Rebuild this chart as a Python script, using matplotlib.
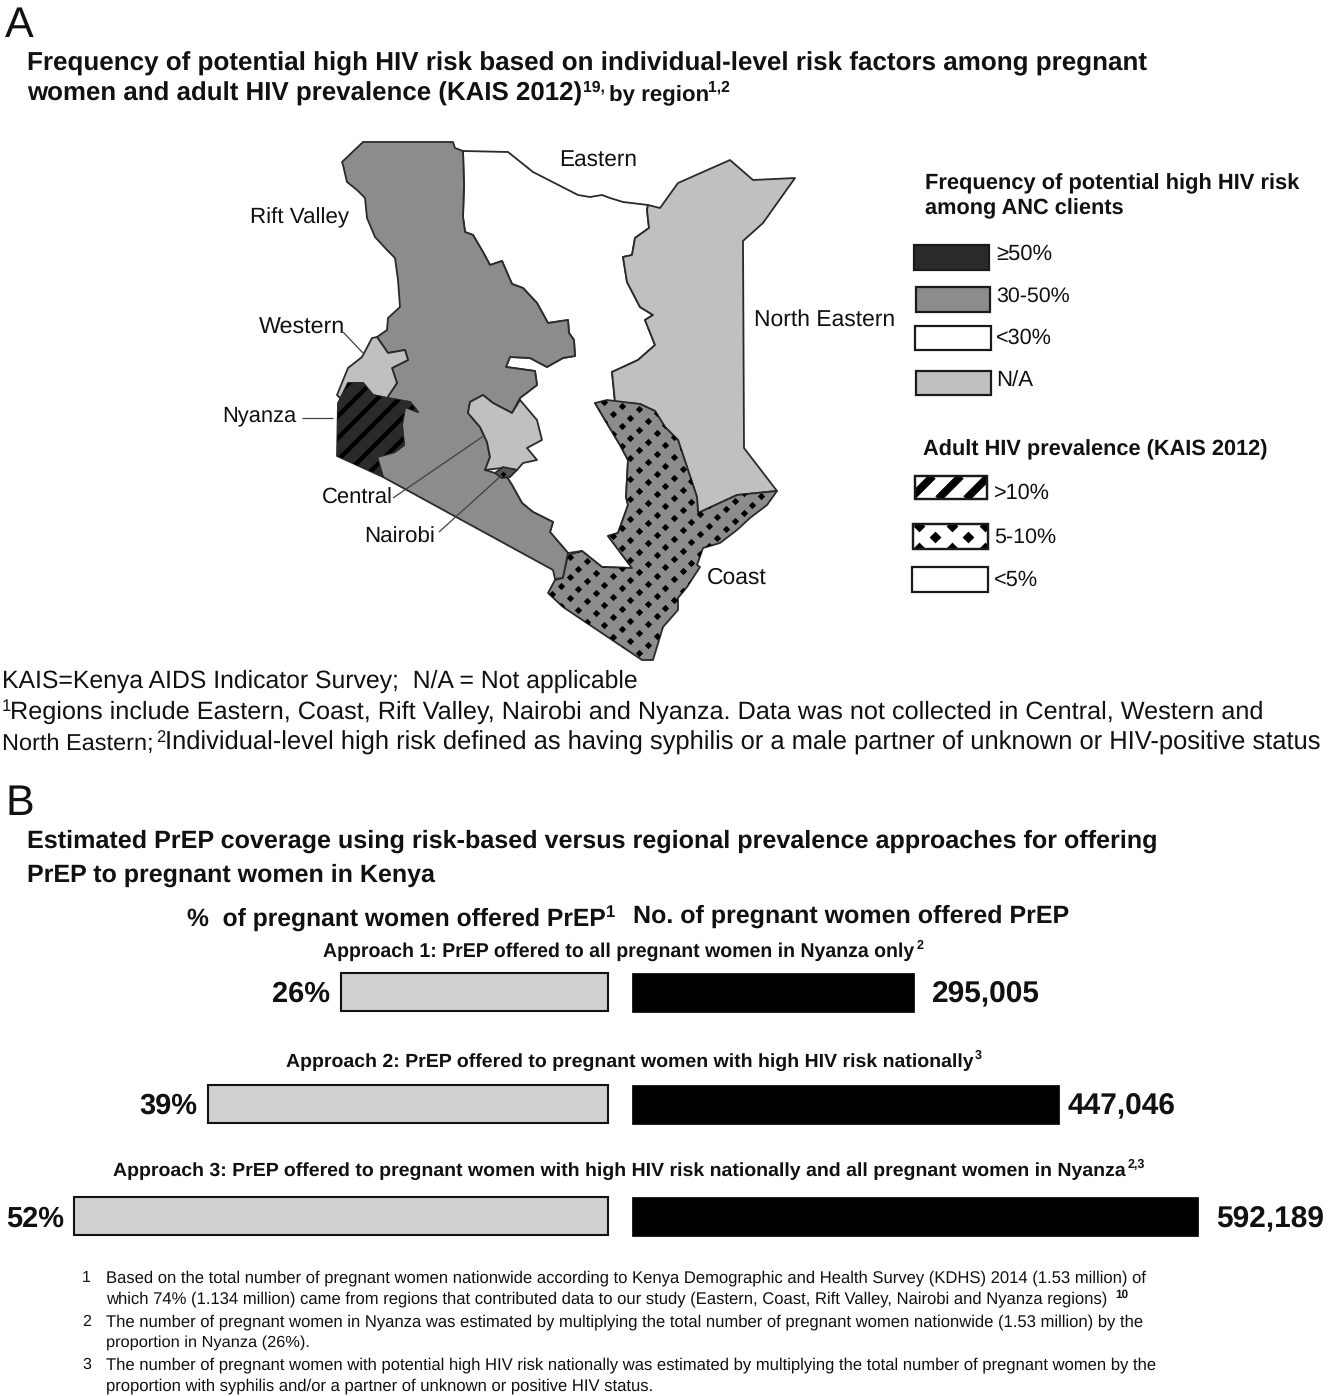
# Kenya HIV risk map (A) and PrEP coverage bars (B), 1328x1396 px at dpi 100
import numpy as np
import matplotlib
matplotlib.use('Agg')
import matplotlib.pyplot as plt
from matplotlib.patches import Polygon, Rectangle
from matplotlib.collections import LineCollection

plt.rcParams['font.family'] = ['Liberation Sans', 'DejaVu Sans']
plt.rcParams['text.hinting'] = 'no_hinting'

# Bar data
approaches = ['Approach 1: PrEP offered to all pregnant women in Nyanza only',
              'Approach 2: PrEP offered to pregnant women with high HIV risk nationally',
              'Approach 3: PrEP offered to pregnant women with high HIV risk nationally and all pregnant women in Nyanza']
approach_sups = ['2', '3', '2,3']
pct_offered = [26, 39, 52]
num_offered = [295005, 447046, 592189]

rift_valley = [(342, 162), (363, 142), (453, 142), (455, 148), (463, 151), (464, 185), (463, 217), (465, 232),
               (473, 235), (483, 252), (490, 265), (502, 261), (512, 284), (523, 288), (537, 303), (548, 323),
               (568, 320), (569, 333), (574, 340), (575, 356), (563, 358), (547, 367), (530, 358), (510, 357),
               (506, 367), (535, 371), (537, 385), (520, 398), (512, 413), (493, 403), (483, 395), (470, 402),
               (468, 413), (480, 427), (487, 442), (490, 457), (485, 470), (495, 473), (507, 477), (512, 485),
               (522, 503), (533, 512), (553, 522), (550, 532), (568, 553), (563, 578), (555, 579), (553, 570),
               (383, 477), (377, 457), (395, 452), (404, 445), (402, 425), (405, 407), (418, 412), (410, 402),
               (387, 398), (397, 383), (392, 368), (408, 360), (405, 350), (388, 353), (377, 337), (387, 330),
               (388, 318), (400, 307), (398, 280), (395, 258), (387, 250), (375, 237), (367, 218), (365, 198),
               (357, 190), (347, 182), (343, 165)]
western = [(377, 337), (388, 353), (405, 350), (408, 360), (392, 368), (397, 383), (387, 398), (373, 395),
           (363, 383), (348, 383), (342, 400), (337, 395), (348, 368), (362, 357), (372, 338)]
nyanza = [(337, 456), (338, 403), (348, 383), (363, 383), (373, 395), (387, 398), (410, 402), (418, 412),
          (405, 407), (402, 425), (404, 445), (395, 452), (377, 457), (383, 477)]
central = [(520, 400), (512, 413), (493, 403), (483, 395), (470, 402), (468, 413), (480, 427), (487, 442),
           (490, 457), (485, 470), (502, 468), (517, 470), (523, 463), (537, 460), (527, 448), (542, 440),
           (537, 420)]
nairobi = [(495, 473), (503, 467), (517, 470), (510, 477), (502, 478)]
north_eastern = [(648, 205), (660, 208), (678, 183), (730, 160), (753, 180), (795, 178), (763, 223), (743, 241),
                 (744, 448), (777, 491), (737, 495), (698, 513), (697, 497), (687, 467), (678, 440), (665, 427),
                 (655, 411), (640, 404), (615, 402), (612, 372), (638, 360), (655, 345), (645, 320), (653, 315),
                 (640, 307), (627, 282), (623, 257), (632, 255), (635, 238), (649, 228), (647, 210)]
coast = [(595, 403), (607, 400), (640, 404), (655, 411), (665, 427), (678, 440), (687, 467), (697, 497),
         (698, 513), (737, 495), (777, 491), (767, 505), (750, 518), (737, 530), (720, 543), (703, 548),
         (697, 565), (700, 567), (687, 587), (678, 598), (678, 610), (663, 627), (653, 660), (642, 660),
         (563, 607), (548, 593), (555, 580), (563, 578), (568, 555), (582, 551), (602, 567), (632, 568),
         (608, 536), (618, 533), (628, 505), (626, 497), (628, 460), (620, 445), (605, 420)]
eastern = [(463, 151), (508, 152), (533, 172), (578, 195), (590, 197), (602, 195), (610, 198), (623, 202),
           (648, 205), (647, 210), (649, 228), (635, 238), (632, 255), (623, 257), (627, 282), (640, 307),
           (653, 315), (645, 320), (655, 345), (638, 360), (612, 372), (615, 402), (595, 403), (605, 420),
           (620, 445), (628, 460), (626, 497), (628, 505), (618, 533), (608, 536), (632, 568), (602, 567),
           (582, 551), (568, 553), (550, 532), (553, 522), (533, 512), (522, 503), (512, 485), (507, 477),
           (520, 398), (537, 385), (535, 371), (506, 367), (510, 357), (530, 358), (547, 367), (563, 358),
           (575, 356), (574, 340), (569, 333), (568, 320), (548, 323), (537, 303), (523, 288), (512, 284),
           (502, 261), (490, 265), (483, 252), (473, 235), (465, 232), (463, 217), (464, 185)]

DARK, MID, LIGHT, EDGE = '#2a2a2a', '#8c8c8c', '#c0c0c0', '#2a2a2a'

fig = plt.figure(figsize=(13.28, 13.96), dpi=100)
ax = fig.add_axes([0, 0, 1, 1])
ax.set_xlim(0, 1328)
ax.set_ylim(1396, 0)
ax.axis('off')


def put(x, y, s, w=None, size=16, weight='normal', **kw):
    # baseline text at x,y; when w is given the font size is scaled to that width in px
    t = ax.text(x, y, s, fontsize=size, fontweight=weight, va='baseline', color='#111111', **kw)
    if w is not None:
        for _ in range(2):
            bb = t.get_window_extent(fig.canvas.get_renderer())
            t.set_fontsize(t.get_fontsize() * w / bb.width)
    return t


def region(pts, fill, z=2):
    p = Polygon(pts, closed=True, facecolor=fill, edgecolor=EDGE, linewidth=1.3, joinstyle='round', zorder=z)
    ax.add_patch(p)
    return p


def stripes(patch, x0, x1, y0, y1, step, lw, z):
    # "/" stripes, clipped to the patch
    segs = [[(c, y1), (c + (y1 - y0), y0)] for c in np.arange(x0 - (y1 - y0), x1 + step, step)]
    lc = LineCollection(segs, colors='k', linewidths=lw, capstyle='butt', zorder=z)
    ax.add_collection(lc)
    lc.set_clip_path(patch)


def diamonds(patch, origin, a, b, x0, x1, y0, y1, s, z):
    # diamond lattice, clipped to the patch
    i, j = np.meshgrid(np.arange(-70, 70), np.arange(-70, 70))
    xs = origin[0] + i.ravel() * a[0] + j.ravel() * b[0]
    ys = origin[1] + i.ravel() * a[1] + j.ravel() * b[1]
    keep = (xs > x0) & (xs < x1) & (ys > y0) & (ys < y1)
    sc = ax.scatter(xs[keep], ys[keep], s=s, marker='D', c='k', linewidths=0, zorder=z)
    sc.set_clip_path(patch)


# Panel A heading
put(5, 37, 'A', size=31)
put(27, 70, 'Frequency of potential high HIV risk based on individual-level risk factors among pregnant', 1120, weight='bold')
put(27, 101, 'women and adult HIV prevalence (KAIS 2012)', 554, weight='bold')
put(583, 92, '19,', 22, size=10, weight='bold')
put(609, 101, 'by region', size=16, weight='bold')
put(708, 92, '1,2', 22, size=10, weight='bold')

# Map
region(eastern, 'white', 1)
region(rift_valley, MID)
region(north_eastern, LIGHT)
coast_p = region(coast, MID)
diamonds(coast_p, (613, 414), (8.7, 12), (8.7, -8.3), 540, 790, 395, 670, 14, 3)
region(western, LIGHT)
region(central, LIGHT)
ny_p = region(nyanza, DARK)
stripes(ny_p, 330, 425, 380, 480, 22, 3.2, 3)
nb_p = region(nairobi, '#555555', 3)
diamonds(nb_p, (503, 474), (8.7, 12), (8.7, -8.3), 490, 520, 465, 480, 9, 4)

# Leader lines
leaders = [((343, 332), (363, 353)), ((302, 418), (333, 418)), ((393, 498), (485, 435)), ((439, 532), (502, 475))]
ax.add_collection(LineCollection(leaders, colors='#404040', linewidths=0.9, zorder=5))

put(559, 167, 'Eastern', 78)
put(250, 223, 'Rift Valley', 99)
put(259, 334, 'Western', 86)
put(222, 421, 'Nyanza', 74)
put(322, 504, 'Central', 71)
put(364, 543, 'Nairobi', 71)
put(707, 584, 'Coast', 60)
put(754, 326, 'North Eastern', 141)

# Legend
put(925, 189, 'Frequency of potential high HIV risk', 374, weight='bold')
put(925, 214, 'among ANC clients', 199, weight='bold')
put(923, 455, 'Adult HIV prevalence (KAIS 2012)', 345, weight='bold')


def box(x0, x1, y0, y1, fill='white'):
    r = Rectangle((x0, y0), x1 - x0, y1 - y0, facecolor=fill, edgecolor='#1a1a1a', linewidth=1.6, zorder=2)
    ax.add_patch(r)
    return r


box(914, 989, 245, 270, DARK)
box(916, 990, 287, 312, MID)
box(915, 991, 326, 350)
box(916, 991, 371, 395, LIGHT)
b10 = box(915, 987, 476, 499)
stripes(b10, 905, 995, 476, 499, 28, 5.5, 2.5)
b5 = box(913, 988, 524, 549)
diamonds(b5, (935, 537), (33, 0), (16.5, -11), 905, 995, 520, 553, 36, 2.5)
box(912, 988, 567, 592)
ax.add_patch(Rectangle((915, 476), 72, 23, fill=False, edgecolor='#1a1a1a', linewidth=1.6, zorder=3))
ax.add_patch(Rectangle((913, 524), 75, 25, fill=False, edgecolor='#1a1a1a', linewidth=1.6, zorder=3))

put(996, 260, '≥50%', 56)
put(996, 302, '30-50%', 74)
put(996, 344, '<30%', 56)
put(996, 387, 'N/A', 37)
put(994, 499, '>10%', 56)
put(994, 543, '5-10%', 62)
put(994, 586, '<5%', 44)

# Panel A notes
put(2, 688, 'KAIS=Kenya AIDS Indicator Survey;  N/A = Not applicable', 635)
put(2, 711, '1', size=12)
put(10, 719, 'Regions include Eastern, Coast, Rift Valley, Nairobi and Nyanza. Data was not collected in Central, Western and', 1254)
put(2, 750, 'North Eastern;', size=16.9)
put(156, 742, '2', size=12)
put(165, 750, 'Individual-level high risk defined as having syphilis or a male partner of unknown or HIV-positive status', 1160)

# Panel B heading
put(5, 815, 'B', size=31)
put(27, 848, 'Estimated PrEP coverage using risk-based versus regional prevalence approaches for offering', 1130, weight='bold')
put(27, 882, 'PrEP to pregnant women in Kenya', 408, weight='bold')
put(187, 926, '%  of pregnant women offered PrEP', 418, weight='bold')
put(606, 917, '1', size=12, weight='bold')
put(633, 923, 'No. of pregnant women offered PrEP', 438, weight='bold')

# Bars: x scales of 10.26 px per % and 0.000956 px per woman, growing out from the gap
row_y = [992, 1104, 1216]
ax_pct = fig.add_axes([0, 0, 608 / 1328, 1])
ax_pct.set_xlim(608 / 10.26, 0)
ax_num = fig.add_axes([632 / 1328, 0, 696 / 1328, 1])
ax_num.set_xlim(0, 696 / 0.000956)
for a in (ax_pct, ax_num):
    a.set_ylim(1396, 0)
    a.axis('off')
ax_pct.barh(row_y, pct_offered, height=38, color='#d0d0d0', edgecolor='#111111', linewidth=1.5, clip_on=False)
ax_num.barh(row_y, num_offered, height=39, color='black', edgecolor='black', linewidth=0.5, clip_on=False)

approach_x = [(323, 592, 917), (286, 688, 975), (113, 1012, 1128)]
approach_base = [957, 1067, 1176]
for name, sup, (x, w, sx), yb in zip(approaches, approach_sups, approach_x, approach_base):
    put(x, yb, name, w, weight='bold')
    put(sx, yb - 8, sup, size=9, weight='bold')

pct_x = [272, 139, 6]
num_x = [932, 1068, 1216]
val_base = [1002, 1114, 1227]
for p, n, xp, xn, yb in zip(pct_offered, num_offered, pct_x, num_x, val_base):
    put(xp, yb, f'{p}%', 58, weight='bold')
    put(xn, yb, f'{n:,}', 108, weight='bold')

# Panel B notes
put(82, 1282, '1', size=11.5)
put(106, 1282, 'Based on the total number of pregnant women nationwide according to Kenya Demographic and Health Survey (KDHS) 2014 (1.53 million) of', 1042)
put(106, 1303, 'which 74% (1.134 million) came from regions that contributed data to our study (Eastern, Coast, Rift Valley, Nairobi and Nyanza regions)', 1003)
put(1115, 1298, '10', 13, size=8, weight='bold')
put(82, 1326, '2', size=11.5)
put(106, 1326, 'The number of pregnant women in Nyanza was estimated by multiplying the total number of pregnant women nationwide (1.53 million) by the', 1039)
put(106, 1347, 'proportion in Nyanza (26%).', 203)
put(82, 1369, '3', size=11.5)
put(106, 1369, 'The number of pregnant women with potential high HIV risk nationally was estimated by multiplying the total number of pregnant women by the', 1052)
put(106, 1390, 'proportion with syphilis and/or a partner of unknown or positive HIV status.', 546)

fig.savefig('out.png', dpi=100)
